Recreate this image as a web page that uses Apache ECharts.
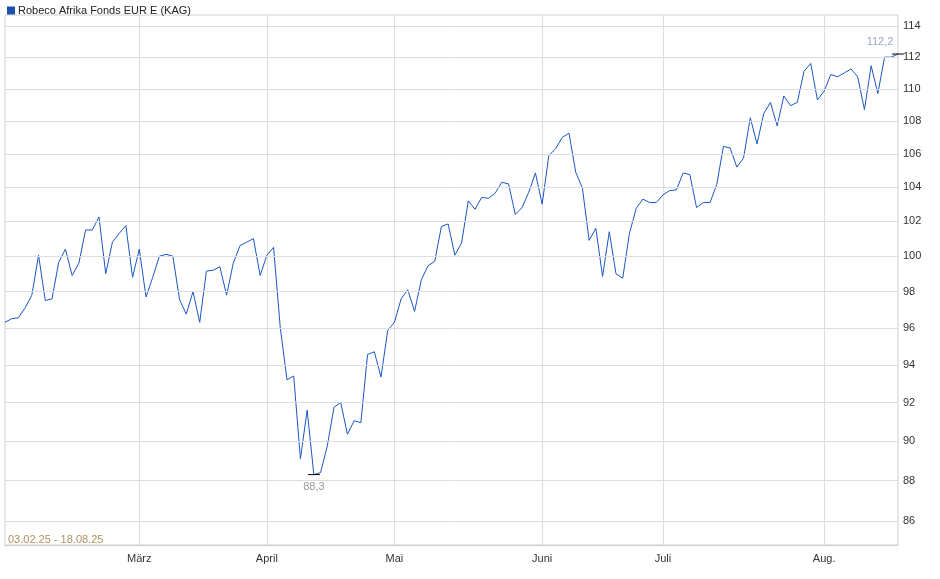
<!DOCTYPE html>
<html><head><meta charset="utf-8">
<script src="https://cdn.jsdelivr.net/npm/echarts@6/dist/echarts.min.js"></script>
<style>html,body{margin:0;padding:0;background:#fff}#c{width:940px;height:579px}</style>
</head><body><div id="c"></div>
<script>
const seriesName = 'Robeco Afrika Fonds EUR E (KAG)';
const values = [96.3,96.5,96.55,97.1,97.8,100.05,97.5,97.6,99.65,100.4,98.9,99.6,101.5,101.5,102.25,99,100.8,101.3,101.75,98.8,
100.4,97.7,98.8,100.0,100.1,100,97.55,96.75,98,96.3,99.15,99.2,99.4,97.8,99.6,100.6,100.8,101,98.9,
100.05,100.5,96,93.2,93.4,89.1,91.6,88.3,88.4,89.75,91.75,92,90.35,91.05,90.95,94.55,94.7,93.35,95.85,96.3,
97.6,98.1,96.9,98.65,99.45,99.7,101.7,101.85,100.05,100.75,103.2,102.7,103.4,103.35,103.65,104.3,104.2,102.4,102.8,103.7,
104.85,103,105.9,106.3,107,107.25,104.9,103.95,100.9,101.6,98.85,101.4,99,98.75,101.3,102.75,103.3,103.1,103.1,103.55,
103.8,103.85,104.85,104.75,102.8,103.1,103.1,104.15,106.45,106.35,105.2,105.75,108.2,106.6,108.45,109.15,107.7,109.55,108.95,109.15,
111.1,111.6,109.3,109.85,110.9,110.75,111.0,111.25,110.75,108.7,111.45,109.7,112,112,112.2];
const monthLabels = ['März','April','Mai','Juni','Juli','Aug.'];
const monthIdx = [20,39,58,80,98,122];
const yTicks = [86,88,90,92,94,96,98,100,102,104,106,108,110,112,114];
const rangeText = '03.02.25 - 18.08.25';

const categories = values.map((v,i)=>String(i));
const labelAt = {}; monthIdx.forEach((k,i)=>labelAt[k]=monthLabels[i]);
const font = 'Liberation Sans, Arial, sans-serif';
const chart = echarts.init(document.getElementById('c'), null, {renderer:'canvas'});
chart.setOption({
  animation:false,
  textStyle:{fontFamily:font},
  grid:{left:5,right:42,top:15,bottom:34,show:true,borderColor:'#d0d0d0',borderWidth:1},
  legend:{show:true,left:2,top:0,itemWidth:8,itemHeight:8,icon:'rect',itemGap:4,
    textStyle:{fontSize:11,color:'#222',fontFamily:font,padding:[0,0,0,-2]}},
  graphic:[{type:'text',left:8,top:534,style:{text:rangeText,fill:'#b09060',font:'11px '+font}}],
  xAxis:{type:'category',data:categories,boundaryGap:false,
    axisLine:{lineStyle:{color:'#ccc'}},axisTick:{show:false},
    axisLabel:{interval:(i)=>labelAt[i]!==undefined,formatter:(v,i)=>labelAt[i]||'',color:'#333',fontSize:11,margin:8},
    splitLine:{show:true,interval:(i)=>labelAt[i]!==undefined,lineStyle:{color:'#ddd'}}},
  yAxis:{type:'log',logBase:10,min:84.83,max:114.72,position:'right',
    axisLine:{show:false},axisTick:{show:false},axisLabel:{show:false},splitLine:{show:false}},
  series:[{name:seriesName,type:'line',data:values,symbol:'none',
    lineStyle:{color:'#1a56c4',width:1},itemStyle:{color:'#1a4fb0'},
    markLine:{silent:true,symbol:'none',animation:false,
      lineStyle:{color:'#ddd',type:'solid',width:1},
      label:{position:'end',distance:5,color:'#333',fontSize:11,formatter:'{c}'},
      data:yTicks.map(t=>({yAxis:t}))},
    markPoint:{symbol:'rect',symbolSize:[12,1],itemStyle:{color:'#000'},
      data:[
        {type:'min',label:{position:'bottom',distance:6,color:'#999',fontSize:11,formatter:(p)=>String(p.value).replace('.',',')}},
        {type:'max',label:{position:'top',offset:[-18,0],distance:6,color:'#9aa8c0',fontSize:11,formatter:(p)=>String(p.value).replace('.',',')}}
      ]}
  }]
});
</script></body></html>
